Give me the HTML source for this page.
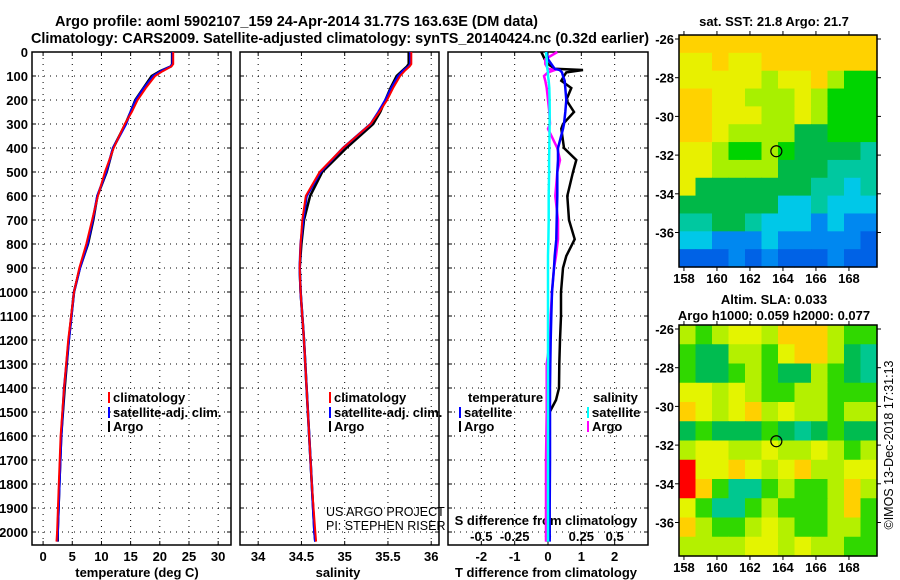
<!DOCTYPE html>
<html><head><meta charset="utf-8"><style>
html,body{margin:0;padding:0;background:#fff;}
svg{display:block;font-family:"Liberation Sans",sans-serif;font-weight:bold;}
</style></head><body>
<svg id="c" width="900" height="580" viewBox="0 0 900 580" xmlns="http://www.w3.org/2000/svg"></svg>
<script>
// ---- data ----
const depths = [0,50,60,80,100,150,200,250,300,400,500,600,700,800,900,1000,1200,1400,1600,1800,2000,2040];
const tempArgo = [22.1,22.1,21.9,20.0,18.6,17.2,15.8,15.0,14.1,12.0,10.9,9.3,8.6,7.7,6.3,5.3,4.4,3.7,3.1,2.8,2.5,2.5];
const tempClim = [22.3,22.3,22.0,20.5,19.2,17.6,16.2,15.2,14.0,12.1,10.6,9.4,8.4,7.4,6.2,5.3,4.3,3.6,3.0,2.7,2.4,2.3];
const tempSat  = [22.2,22.2,21.9,20.2,18.9,17.3,15.9,15.0,14.2,12.0,10.8,9.3,8.5,7.6,6.3,5.3,4.4,3.6,3.1,2.8,2.5,2.4];
const salArgo = [35.74,35.74,35.72,35.66,35.60,35.53,35.47,35.41,35.33,35.02,34.74,34.60,34.53,34.50,34.48,34.49,34.53,34.56,34.59,34.62,34.65,34.66];
const salClim = [35.77,35.77,35.75,35.69,35.64,35.56,35.49,35.40,35.30,34.98,34.71,34.55,34.51,34.49,34.48,34.49,34.53,34.56,34.59,34.62,34.66,34.67];
const salSat  = [35.76,35.76,35.74,35.67,35.62,35.54,35.47,35.39,35.30,34.98,34.72,34.56,34.52,34.49,34.48,34.49,34.53,34.56,34.59,34.62,34.65,34.66];
const diffDepths = [0,30,50,70,75,85,100,120,150,200,250,300,320,400,450,500,600,700,780,850,900,1000,1100,1200,1300,1400,1450,1500,1700,1900,2040];
const dTArgo = [-0.2,-0.1,0.0,0.2,1.05,0.55,0.48,0.40,0.70,0.55,0.78,0.45,0.40,0.48,0.85,0.75,0.58,0.63,0.80,0.55,0.45,0.39,0.39,0.36,0.34,0.33,0.24,0.05,0.0,-0.03,-0.03];
const dTSat  = [-0.05,0.0,0.1,0.2,0.35,0.42,0.45,0.50,0.52,0.55,0.52,0.48,0.45,0.30,0.30,0.28,0.28,0.26,0.25,0.20,0.18,0.12,0.10,0.08,0.07,0.06,0.06,0.06,0.06,0.05,0.05];
const dSArgo = [0.07,-0.02,-0.02,0.0,0.05,0.0,-0.03,-0.02,-0.01,0.0,0.01,0.015,0.0,0.07,0.09,0.07,0.055,0.075,0.075,0.06,0.045,0.03,0.02,0.015,-0.01,-0.01,-0.01,-0.01,-0.015,-0.015,-0.015];
const dSSat  = [-0.015,-0.01,-0.008,-0.005,-0.003,0.0,0.0,0.005,0.01,0.012,0.013,0.012,0.012,0.01,0.008,0.008,0.005,0.005,0.003,0.0,0.0,0.0,0.0,0.0,0.0,0.0,0.0,0.0,0.0,0.0,0.0];
const tTicks = [0,5,10,15,20,25,30];
const sTicks = [34,34.5,35,35.5,36];
const dTTicks = [-2,-1,0,1,2];
const dSTicks = [-0.5,-0.25,0,0.25,0.5];
const depthTicks = [0,100,200,300,400,500,600,700,800,900,1000,1100,1200,1300,1400,1500,1600,1700,1800,1900,2000];
const lonTicks = [158,160,162,164,166,168];
const latTicks = [-26,-28,-30,-32,-34,-36];
const argoLon = 163.6, argoLat = -31.8;
const sstGrid = [
"OOOOOOOOOOOO","YYOYYOOOOOOO","YYYYYLYYOLGG","OOYYLLLYLGGG","OOYYYLLYLGGG","OOYLLLLDDGGG",
"YYLGGLGDDDDT","YYLLLLDDDTTT","YDDDDDDDTTCT","DDDDDDCCTCCC","TTDDTCCCBCBB","CCBBBCBBBBBN","NNNBNBNNNBNN"];
const slaGrid = [
"LGLYYLOOOLGG","GDDLLGYOOLDT","GDDGLGDDLGDT","YYLYLGGLLGGG","OYLYOLYLLGLL","DGDDDGDTDGDD",
"LYYLLYLLYLGL","RYYOYLYOLLYY","ROGTTGLGGLOL","YGTTGLGGGLOG","OLGGLYLGGLLG","LLLLYYLYLLGG"];
// ---- helpers ----
const svg = document.getElementById('c');
const NS = 'http://www.w3.org/2000/svg';
function el(tag, attrs, parent){const e=document.createElementNS(NS,tag);for(const k in attrs)e.setAttribute(k,attrs[k]);(parent||svg).appendChild(e);return e;}
function txt(x,y,s,size,anchor,fill,weight){const t=el('text',{x:x,y:y,'font-size':size,'text-anchor':anchor||'start',fill:fill||'#000'});if(weight)t.setAttribute('font-weight',weight);t.textContent=s;return t;}
const yTop=52, pxPer100=24, yBot=545;
const yD = d => yTop + d*pxPer100/100;
function lin(d0,d1,r0,r1){return v=>r0+(v-d0)*(r1-r0)/(d1-d0);}
const P1={x0:32,x1:231}, P2={x0:240,x1:439}, P3={x0:448,x1:648};
const xT = lin(-1.9,32.2,P1.x0,P1.x1);
const xS = lin(33.79,36.09,P2.x0,P2.x1);
const xDT = lin(-3,3,P3.x0,P3.x1);
const xDS = lin(-0.75,0.75,P3.x0,P3.x1);
function panel(P,name,xt,ticks){
  const g=el('g',{});
  
  
  for(const t of ticks){const x=xt(t);el('line',{x1:x,x2:x,y1:yTop,y2:yBot,stroke:'#000','stroke-width':1,'stroke-dasharray':'1 5'},g);
    el('line',{x1:x,x2:x,y1:yBot,y2:yBot-4,stroke:'#000'},g);el('line',{x1:x,x2:x,y1:yTop,y2:yTop+4,stroke:'#000'},g);}
  for(const d of depthTicks){const y=yD(d);el('line',{x1:P.x0,x2:P.x1,y1:y,y2:y,stroke:'#000','stroke-dasharray':'1 5'},g);
    el('line',{x1:P.x0,x2:P.x0+4,y1:y,y2:y,stroke:'#000'},g);el('line',{x1:P.x1-4,x2:P.x1,y1:y,y2:y,stroke:'#000'},g);}
  el('rect',{x:P.x0,y:yTop,width:P.x1-P.x0,height:yBot-yTop,fill:'none',stroke:'#000','stroke-width':1.5},g);
  for(const t of ticks){const l=txt(xt(t),561,String(t),13,'middle');}
  return g;
}
function line(vals,deps,xf,color,w,name){
  const pts=vals.map((v,i)=>xf(v).toFixed(1)+','+yD(deps[i]).toFixed(1)).join(' ');
  const p=el('polyline',{points:pts,fill:'none',stroke:color,'stroke-width':w});
  
  
}
// titles
let t1=txt(55,26,'Argo profile: aoml 5902107_159 24-Apr-2014 31.77S 163.63E (DM data)',15,'start');
t1.setAttribute('textLength','483');t1.setAttribute('lengthAdjust','spacingAndGlyphs');

let t2=txt(31,43,'Climatology: CARS2009. Satellite-adjusted climatology: synTS_20140424.nc (0.32d earlier)',15,'start');
t2.setAttribute('textLength','618');t2.setAttribute('lengthAdjust','spacingAndGlyphs');

// panels
panel(P1,'temperature-panel',xT,tTicks);
panel(P2,'salinity-panel',xS,sTicks);
panel(P3,'difference-panel',xDT,dTTicks);
for(const d of depthTicks){const l=txt(28,yD(d)+5,String(d),13,'end');}
// axis titles
let a1=txt(137,577,'temperature (deg C)',13,'middle');
let a2=txt(338,577,'salinity',13,'middle');
let a3=txt(546,577,'T difference from climatology',13,'middle');
let a4=txt(546,525,'S difference from climatology',13,'middle');
for(const t of dSTicks){const l=txt(xDS(t),541,String(t),13,'middle');}
// series
line(tempArgo,depths,xT,'#000',2.5,'temp-argo-line');
line(tempSat,depths,xT,'#0000ff',2.5,'temp-sat-line');
line(tempClim,depths,xT,'#ff0000',2,'temp-clim-line');
line(salArgo,depths,xS,'#000',2.5,'sal-argo-line');
line(salSat,depths,xS,'#0000ff',2.5,'sal-sat-line');
line(salClim,depths,xS,'#ff0000',2,'sal-clim-line');
line(dTArgo,diffDepths,xDT,'#000',2.5,'tdiff-argo-line');
line(dSArgo,diffDepths,xDS,'#ff00ff',2.5,'sdiff-argo-line');
line(dTSat,diffDepths,xDT,'#0000ff',2.5,'tdiff-sat-line');
line(dSSat,diffDepths,xDS,'#00ffff',2.5,'sdiff-sat-line');
// legends
function leg(x,y,color,label,name){
  const g=el('g',{});
  
  
  el('rect',{x:x,y:y-10,width:2,height:11,fill:color},g);
  const t=txt(x+5,y,label,13,'start');g.appendChild(t);
}
leg(108,402,'#ff0000','climatology','legend-temp-climatology');
leg(108,417,'#0000ff','satellite-adj. clim.','legend-temp-satellite');
leg(108,431,'#000','Argo','legend-temp-argo');
leg(329,402,'#ff0000','climatology','legend-sal-climatology');
leg(329,417,'#0000ff','satellite-adj. clim.','legend-sal-satellite');
leg(329,431,'#000','Argo','legend-sal-argo');
let lt=txt(468,402,'temperature',13,'start');
leg(459,417,'#0000ff','satellite','legend-tdiff-satellite');
leg(459,431,'#000','Argo','legend-tdiff-argo');
let ls=txt(593,402,'salinity',13,'start');
leg(587,417,'#00ffff','satellite','legend-sdiff-satellite');
leg(587,431,'#ff00ff','Argo','legend-sdiff-argo');
let u1=txt(326,516,'US ARGO PROJECT',12.5,'start','#000','normal');
let u2=txt(326,530,'PI: STEPHEN RISER',12.5,'start','#000','normal');
// maps
const palSST={O:'#ffd200',Y:'#e8f000',L:'#a8f000',G:'#00d400',D:'#00b848',T:'#00c8a0',C:'#00c8e8',B:'#0088f0',N:'#0062e6'};
const palSLA={O:'#ffd000',Y:'#e4f400',L:'#b4f000',G:'#30d800',D:'#00bc50',T:'#00c890',R:'#ff0000'};
const mX0=679,mX1=877;
const xLon=lin(157.7,169.7,mX0,mX1);
function map(y0,y1,grid,pal,name,yLat26){
  const g=el('g',{});
  
  
  const rows=grid.length, cols=grid[0].length;
  const cw=(mX1-mX0)/cols, ch=(y1-y0)/rows;
  for(let r=0;r<rows;r++)for(let c=0;c<cols;c++)
    el('rect',{x:mX0+c*cw,y:y0+r*ch,width:cw+0.6,height:ch+0.6,fill:pal[grid[r][c]]},g);
  el('rect',{x:mX0,y:y0,width:mX1-mX0,height:y1-y0,fill:'none',stroke:'#000','stroke-width':1.5},g);
  const yLat=lat=>yLat26+(-26-lat)*19.35;
  for(const lo of lonTicks){const x=xLon(lo);el('line',{x1:x,x2:x,y1:y1,y2:y1+4,stroke:'#000'},g);el('line',{x1:x,x2:x,y1:y0,y2:y0-4,stroke:'#000'},g);
    const l=txt(x,y1+16,String(lo),13,'middle');}
  for(const la of latTicks){const y=yLat(la);el('line',{x1:mX1,x2:mX1+4,y1:y,y2:y,stroke:'#000'},g);el('line',{x1:mX0-4,x2:mX0,y1:y,y2:y,stroke:'#000'},g);
    const l=txt(mX0-5,y+5,String(la),13,'end');}
  const m=el('circle',{cx:xLon(argoLon),cy:yLat(argoLat),r:5.5,fill:'none',stroke:'#000','stroke-width':1.2},g);
  
  
}
map(35,267,sstGrid,palSST,'sst-map',39);
map(325,556,slaGrid,palSLA,'sla-map',329);
let m1=txt(774,26,'sat. SST: 21.8 Argo: 21.7',13,'middle');
let m2=txt(774,304,'Altim. SLA: 0.033',13,'middle');
let m3=txt(774,320,'Argo h1000: 0.059 h2000: 0.077',13,'middle');
let cr=txt(0,0,'©IMOS 13-Dec-2018 17:31:13',12.5,'middle','#000','normal');
cr.setAttribute('transform','translate(893,445) rotate(-90)');

</script>
</body></html>
